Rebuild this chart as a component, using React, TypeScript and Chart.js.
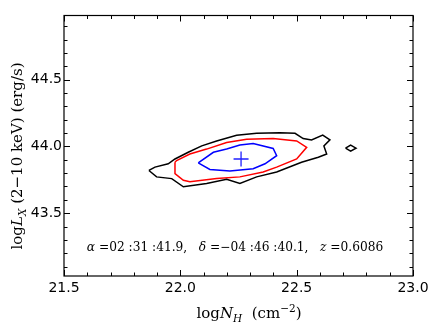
import React, { useEffect, useRef } from 'react';
import { Chart, registerables } from 'chart.js';

Chart.register(...registerables);

// 3-sigma (black) contour
const outerNH = [21.865, 21.891, 21.948, 21.977, 22.034, 22.092, 22.156, 22.242, 22.328, 22.428, 22.493, 22.528, 22.564, 22.612, 22.643, 22.617, 22.629, 22.593, 22.521, 22.414, 22.328, 22.256, 22.199, 22.113, 22.013, 21.963, 21.898, 21.865];
const outerLX = [43.820, 43.845, 43.870, 43.906, 43.956, 44.004, 44.041, 44.083, 44.098, 44.103, 44.098, 44.059, 44.049, 44.085, 44.049, 44.004, 43.943, 43.919, 43.882, 43.808, 43.772, 43.722, 43.754, 43.722, 43.698, 43.759, 43.772, 43.820];
// small black island
const islandNH = [22.710, 22.732, 22.755, 22.732, 22.710];
const islandLX = [43.987, 44.010, 43.987, 43.965, 43.987];
// 2-sigma (red) contour
const midNH = [21.977, 21.977, 22.013, 22.041, 22.156, 22.256, 22.356, 22.414, 22.500, 22.543, 22.500, 22.399, 22.285, 22.199, 22.113, 22.041, 21.984, 21.977];
const midLX = [43.882, 43.796, 43.747, 43.735, 43.759, 43.772, 43.808, 43.845, 43.906, 43.993, 44.041, 44.059, 44.054, 44.029, 43.980, 43.943, 43.894, 43.882];
// 1-sigma (blue) contour
const innerNH = [22.077, 22.127, 22.213, 22.313, 22.364, 22.414, 22.399, 22.313, 22.256, 22.199, 22.142, 22.077];
const innerLX = [43.877, 43.828, 43.816, 43.833, 43.870, 43.931, 43.985, 44.022, 44.010, 43.980, 43.956, 43.877];
// best fit
const bestNH = [22.261];
const bestLX = [43.906];

const xMajorTicks = [21.5, 22.0, 22.5, 23.0];
const yMajorTicks = [43.5, 44.0, 44.5];
const xMinorTicks = [21.6, 21.7, 21.8, 21.9, 22.1, 22.2, 22.3, 22.4, 22.6, 22.7, 22.8, 22.9];
const yMinorTicks = [43.1, 43.2, 43.3, 43.4, 43.6, 43.7, 43.8, 43.9, 44.1, 44.2, 44.3, 44.4, 44.6, 44.7, 44.8, 44.9];

const raText = '02 :31 :41.9';
const decText = '−04 :46 :40.1';
const zText = '0.6086';

const toPts = (xs: number[], ys: number[]) => xs.map((v, i) => ({ x: v, y: ys[i] }));

type Run = { t: string; f: string; dy?: number };
const SERIF = '"DejaVu Serif", serif';
const roman = (s: number) => `${s}px ${SERIF}`;
const ital = (s: number) => `italic ${s}px ${SERIF}`;

function drawRuns(ctx: CanvasRenderingContext2D, runs: Run[], x: number, y: number) {
  let w = 0;
  for (const r of runs) {
    ctx.font = r.f;
    w += ctx.measureText(r.t).width;
  }
  let cx = x - w / 2;
  for (const r of runs) {
    ctx.font = r.f;
    ctx.fillText(r.t, cx, y + (r.dy || 0));
    cx += ctx.measureText(r.t).width;
  }
}

const decor = {
  id: 'decor',
  afterDraw(chart: any) {
    const { ctx, chartArea: a, scales } = chart;
    const x = scales.x;
    const y = scales.y;
    ctx.save();
    ctx.strokeStyle = '#000';
    ctx.lineWidth = 1.2;
    ctx.strokeRect(a.left, a.top, a.right - a.left, a.bottom - a.top);
    ctx.lineWidth = 1;
    const seg = (x1: number, y1: number, x2: number, y2: number) => {
      ctx.beginPath();
      ctx.moveTo(x1, y1);
      ctx.lineTo(x2, y2);
      ctx.stroke();
    };
    const tx = (vals: number[], len: number) => {
      for (const v of vals) {
        const p = Math.round(x.getPixelForValue(v)) + 0.5;
        seg(p, a.bottom, p, a.bottom - len);
        seg(p, a.top, p, a.top + len);
      }
    };
    const ty = (vals: number[], len: number) => {
      for (const v of vals) {
        const p = Math.round(y.getPixelForValue(v)) + 0.5;
        seg(a.left, p, a.left + len, p);
        seg(a.right, p, a.right - len, p);
      }
    };
    tx(xMajorTicks, 6);
    tx(xMinorTicks, 3.5);
    ty(yMajorTicks, 6);
    ty(yMinorTicks, 3.5);

    ctx.fillStyle = '#000';
    ctx.textBaseline = 'alphabetic';
    // annotation
    const fs = 12.2;
    const parts: Run[] = [
      { t: 'α', f: ital(fs) },
      { t: ' =' + raText + ',   ', f: roman(fs) },
      { t: 'δ', f: ital(fs) },
      { t: ' =' + decText + ',   ', f: roman(fs) },
      { t: 'z', f: ital(fs) },
      { t: ' =' + zText, f: roman(fs) },
    ];
    drawRuns(ctx, parts, 235, 251);

    // x title
    drawRuns(
      ctx,
      [
        { t: 'log', f: roman(15) },
        { t: 'N', f: ital(15) },
        { t: 'H', f: ital(10.5), dy: 4 },
        { t: '  (cm', f: roman(15) },
        { t: '−2', f: roman(10.5), dy: -6 },
        { t: ')', f: roman(15) },
      ],
      249,
      318
    );

    // y title
    ctx.save();
    ctx.translate(22, 156);
    ctx.rotate(-Math.PI / 2);
    drawRuns(
      ctx,
      [
        { t: 'log', f: roman(15) },
        { t: 'L', f: ital(15) },
        { t: 'X', f: ital(10.5), dy: 4 },
        { t: ' (2−10 keV) (erg/s)', f: roman(15) },
      ],
      0,
      0
    );
    ctx.restore();
    ctx.restore();
  },
};

export default function App() {
  const ref = useRef<HTMLCanvasElement>(null);
  useEffect(() => {
    if (!ref.current) return;
    const line = (xs: number[], ys: number[], color: string) => ({
      data: toPts(xs, ys),
      showLine: true,
      borderColor: color,
      backgroundColor: color,
      borderWidth: 1.5,
      pointRadius: 0,
      tension: 0,
      fill: false,
    });
    const chart = new Chart(ref.current, {
      type: 'scatter',
      data: {
        datasets: [
          line(outerNH, outerLX, '#000000'),
          line(islandNH, islandLX, '#000000'),
          line(midNH, midLX, '#ff0000'),
          line(innerNH, innerLX, '#0000ff'),
          {
            data: toPts(bestNH, bestLX),
            pointStyle: 'cross',
            pointRadius: 7.5,
            borderColor: '#2020ff',
            backgroundColor: '#2020ff',
            borderWidth: 1.3,
          } as any,
        ],
      },
      options: {
        responsive: false,
        animation: false,
        layout: { padding: { top: 15.5, right: 23, left: 0, bottom: 0 } },
        plugins: { legend: { display: false }, tooltip: { enabled: false } },
        scales: {
          x: {
            type: 'linear',
            min: 21.5,
            max: 23.0,
            grid: { display: false, drawTicks: false },
            border: { display: false },
            afterBuildTicks: (s: any) => {
              s.ticks = xMajorTicks.map((v) => ({ value: v }));
            },
            afterFit: (s: any) => {
              s.height = 51;
            },
            ticks: {
              padding: 4,
              color: '#000',
              font: { family: '"DejaVu Sans", sans-serif', size: 14 },
              maxRotation: 0,
              callback: (v: any) => Number(v).toFixed(1),
            },
          },
          y: {
            type: 'linear',
            min: 43.03,
            max: 44.98,
            grid: { display: false, drawTicks: false },
            border: { display: false },
            afterBuildTicks: (s: any) => {
              s.ticks = yMajorTicks.map((v) => ({ value: v }));
            },
            afterFit: (s: any) => {
              s.width = 64;
            },
            ticks: {
              padding: 2,
              color: '#000',
              font: { family: '"DejaVu Sans", sans-serif', size: 14 },
              callback: (v: any) => Number(v).toFixed(1),
            },
          },
        },
      },
      plugins: [decor],
    });
    return () => chart.destroy();
  }, []);
  return (
    <div style={{ position: 'fixed', left: 0, top: 0, width: 436, height: 327, background: '#fff' }}>
      <canvas ref={ref} width={436} height={327} style={{ display: 'block' }} />
    </div>
  );
}
